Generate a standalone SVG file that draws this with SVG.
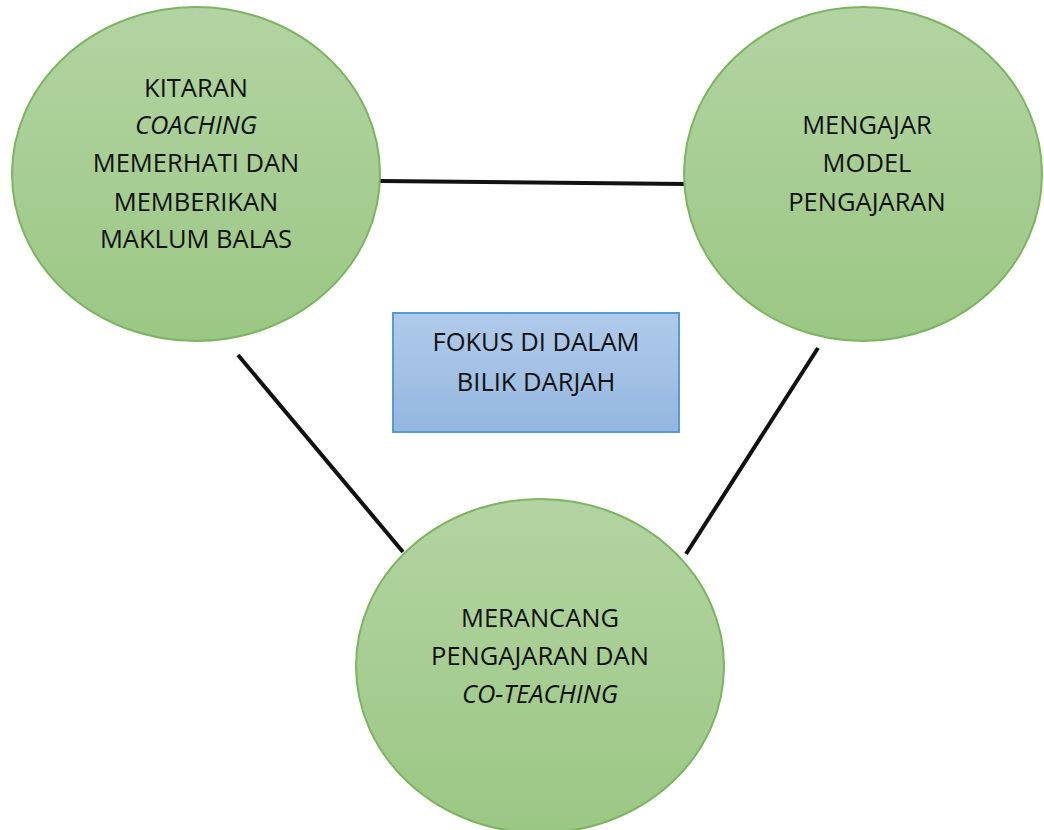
<svg xmlns="http://www.w3.org/2000/svg" width="1044" height="830" viewBox="0 0 1044 830">
<defs>
<linearGradient id="g" x1="0" y1="0" x2="0" y2="1">
<stop offset="0" stop-color="#b3d4a2"/>
<stop offset="1" stop-color="#9bc784"/>
</linearGradient>
<linearGradient id="b" x1="0" y1="0" x2="0" y2="1">
<stop offset="0" stop-color="#b0cbea"/>
<stop offset="1" stop-color="#94b7e0"/>
</linearGradient>
</defs>
<style>
.n{fill:url(#g);stroke:#7cb461;stroke-width:2}
.box{fill:url(#b);stroke:#5b9bd5;stroke-width:2}
.t{font-family:"Open Sans","Liberation Sans",sans-serif;font-size:25.5px;fill:#111;text-anchor:middle}
.i{font-style:italic}
.c{stroke:#111;stroke-width:4;fill:none}
</style>
<rect width="1044" height="830" fill="#fff"/>
<g id="connectors">
<line class="c" x1="380" y1="181" x2="686" y2="184"/>
<line class="c" x1="238" y1="355" x2="403" y2="552"/>
<line class="c" x1="818" y1="348" x2="686" y2="554"/>
</g>
<g id="node-coaching">
<ellipse class="n" cx="196" cy="174" rx="184" ry="167"/>
<text class="t" x="196" y="97">KITARAN</text>
<text class="t i" x="196" y="134">COACHING</text>
<text class="t" x="196" y="172">MEMERHATI DAN</text>
<text class="t" x="196" y="211">MEMBERIKAN</text>
<text class="t" x="196" y="248">MAKLUM BALAS</text>
</g>
<g id="node-mengajar">
<ellipse class="n" cx="863" cy="174" rx="179" ry="167"/>
<text class="t" x="867" y="134">MENGAJAR</text>
<text class="t" x="867" y="172">MODEL</text>
<text class="t" x="867" y="211">PENGAJARAN</text>
</g>
<g id="node-merancang">
<ellipse class="n" cx="540" cy="666" rx="184" ry="167"/>
<text class="t" x="540" y="627">MERANCANG</text>
<text class="t" x="540" y="665">PENGAJARAN DAN</text>
<text class="t i" x="540" y="703">CO-TEACHING</text>
</g>
<g id="node-fokus">
<rect class="box" x="393" y="313" width="286" height="119"/>
<text class="t" x="536" y="351">FOKUS DI DALAM</text>
<text class="t" x="536" y="391">BILIK DARJAH</text>
</g>
</svg>
